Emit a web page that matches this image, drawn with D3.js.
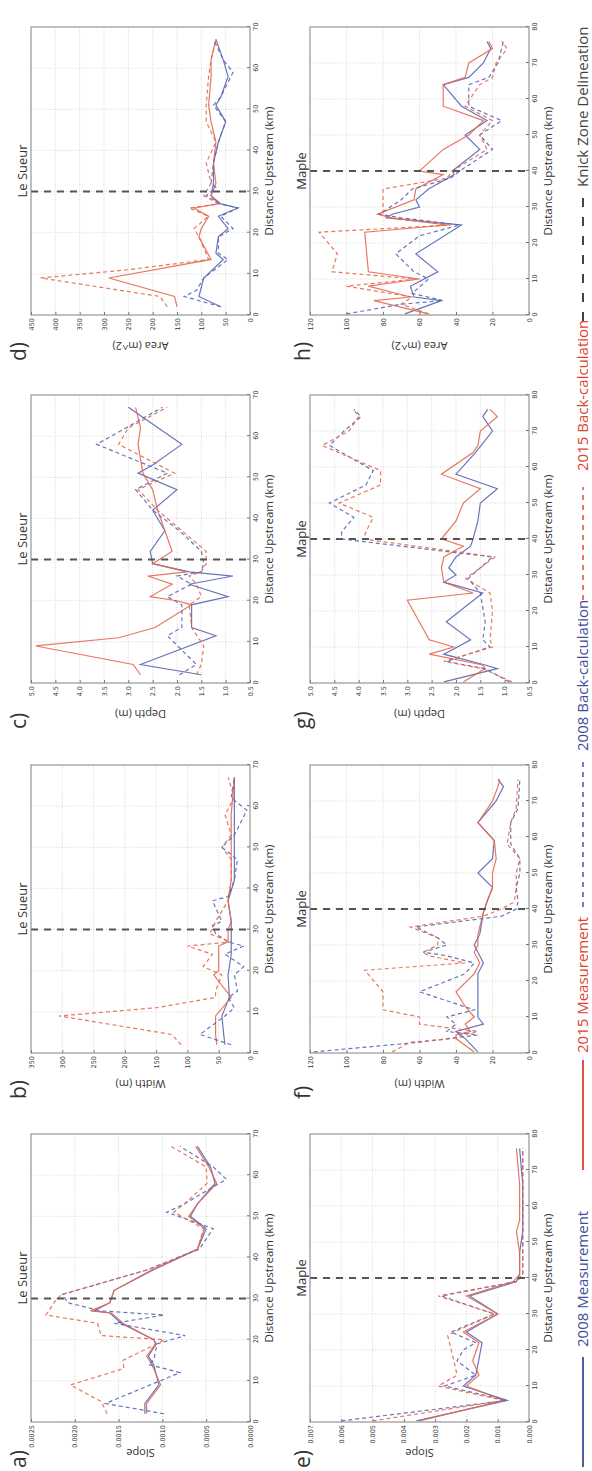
<!DOCTYPE html>
<html>
<head>
<meta charset="utf-8">
<script src="https://cdn.jsdelivr.net/npm/d3@7"></script>
<style>
  body { margin: 0; background: #fff; }
  text { font-family: "Open Sans", sans-serif; }
  .tick text { font-family: "DejaVu Sans", sans-serif; font-size: 6.5px; fill: #333; }
</style>
</head>
<body>
<svg id="fig" width="592" height="1471"></svg>
<script>
// ---- data: [distance upstream (km), value] ----
// Le Sueur slope
const lsSlopeM08 = [[2,0.00120],[4.5,0.00120],[9,0.00104],[14,0.00110],[16,0.00116],[19,0.00107],[20,0.00110],[24,0.00147],[26.5,0.00160],[27,0.00178],[29,0.00160],[32,0.00155],[37,0.00110],[42,0.00060],[47,0.00050],[50,0.00068],[53,0.00060],[58,0.00040],[62,0.00045],[67,0.00060]];
const lsSlopeM15 = [[2,0.00118],[4.5,0.00118],[9,0.00102],[14,0.00112],[16,0.00118],[19,0.00108],[20,0.00110],[24,0.00145],[26.5,0.00158],[27,0.00182],[29,0.00160],[32,0.00155],[37,0.00112],[42,0.00060],[47,0.00052],[50,0.00070],[53,0.00060],[58,0.00038],[62,0.00047],[67,0.00062]];
const lsSlopeB08 = [[2,0.00098],[4.5,0.00165],[12,0.00080],[14,0.00116],[15,0.00110],[19,0.00106],[21,0.00074],[24,0.00155],[26,0.00098],[27,0.00170],[29,0.00208],[31,0.00214],[37,0.00117],[42,0.00058],[47,0.00042],[51,0.00095],[53,0.00075],[59,0.00027],[62,0.00042],[67,0.00080]];
const lsSlopeB15 = [[2,0.00163],[5,0.00170],[9,0.00205],[13,0.00144],[15,0.00145],[19,0.00106],[20,0.00098],[21,0.00170],[24,0.00174],[26,0.00233],[29.5,0.00222],[31,0.00215],[37,0.00117],[42,0.00060],[47,0.00053],[51,0.00087],[53,0.00075],[58,0.00049],[62,0.00050],[67,0.00090]];
// Le Sueur width
const lsWidthM08 = [[2,40],[4.5,42],[9,45],[13.5,33],[19,35],[24,30],[27,30],[32,30],[37,35],[42,25],[50,25],[58,25],[67,25]];
const lsWidthM15 = [[2,53],[4.5,55],[9,55],[13.5,30],[19,58],[20,50],[24,50],[26,50],[27,35],[30,35],[32,30],[37,35],[42,30],[50,30],[58,30],[67,25]];
const lsWidthB08 = [[2,30],[4.5,80],[9,40],[11,25],[13.5,35],[15,20],[19,25],[21,10],[24,40],[26,10],[27,35],[29,55],[31,60],[32,45],[37,60],[38,35],[42,25],[47,20],[50,45],[53,25],[59,5],[62,30],[67,25]];
const lsWidthB15 = [[2,110],[4.5,125],[9,305],[11,150],[13.5,55],[15,55],[19,45],[21,75],[24,60],[26,100],[27,30],[29,65],[30,60],[32,55],[37,35],[42,30],[47,30],[50,45],[53,30],[58,40],[62,25],[67,35]];
// Le Sueur depth
const lsDepthM08 = [[2,1.5],[4.5,2.75],[11.5,1.2],[13.5,1.7],[19,1.7],[21,0.95],[24,1.75],[26,0.85],[27,1.75],[29,2.5],[32,2.55],[37,2.25],[42,2.5],[47,2.0],[51,2.8],[53,2.5],[58,1.9],[67,3.0]];
const lsDepthM15 = [[2,2.75],[4.5,2.9],[9,4.9],[11,3.2],[13.5,2.45],[19,1.7],[20,2.0],[21,2.55],[24,2.1],[26,2.6],[27,1.8],[29,2.5],[32,2.1],[42,2.4],[47,2.5],[51,2.7],[58,2.8],[62,2.75],[67,2.85]];
const lsDepthB08 = [[2,1.95],[4.5,1.6],[11.5,2.2],[13.5,1.9],[19,1.9],[21,2.2],[24,1.7],[26,2.0],[27,1.5],[29,1.45],[32,1.5],[37,1.95],[42,2.5],[47,2.85],[51,2.2],[58,3.65],[67,2.3]];
const lsDepthB15 = [[2,1.6],[4.5,1.5],[9,1.45],[13.5,1.7],[19,1.75],[21,1.5],[24,1.6],[26,1.75],[27,1.5],[29,1.4],[32,1.4],[37,1.9],[42,2.4],[47,2.8],[51,2.05],[58,3.2],[62,3.0],[67,2.2]];
// Le Sueur area
const lsAreaM08 = [[2,60],[4.5,105],[9,95],[13.5,55],[15,70],[19,65],[21,45],[24,65],[26,25],[27,60],[29,80],[32,75],[37,75],[42,65],[47,50],[51,70],[53,60],[58,45],[62,55],[67,70]];
const lsAreaM15 = [[2,150],[4.5,155],[9,290],[13.5,80],[19,105],[21,100],[24,85],[26,115],[27,65],[29,80],[32,70],[37,75],[42,70],[47,80],[51,85],[58,80],[62,80],[67,70]];
const lsAreaB08 = [[2,60],[4.5,135],[6,110],[9,95],[13.5,45],[15,65],[19,65],[21,35],[24,60],[26,25],[27,60],[29,90],[31,70],[32,80],[37,75],[42,65],[47,50],[51,75],[53,60],[59,35],[62,55],[67,75]];
const lsAreaB15 = [[2,170],[4.5,185],[9,430],[11,250],[13.5,85],[19,105],[21,115],[24,85],[26,125],[27,65],[29,95],[32,80],[37,90],[42,70],[47,90],[51,90],[58,85],[62,80],[67,70]];
// Maple slope
const mpSlopeM08 = [[0.3,0.0036],[6,0.0007],[10,0.0021],[13,0.0017],[22,0.0015],[25,0.0020],[30,0.0010],[35,0.0019],[39,0.0004],[41,0.0003],[47,0.0003],[53,0.0002],[66,0.0002],[76,0.0003]];
const mpSlopeM15 = [[0.3,0.0035],[6,0.0008],[10,0.0020],[13,0.0016],[17,0.0018],[22,0.0016],[25,0.0021],[30,0.0010],[35,0.0020],[39,0.0005],[41,0.0003],[47,0.0003],[53,0.0004],[56,0.0003],[66,0.0003],[76,0.0004]];
const mpSlopeB08 = [[0.3,0.0060],[6,0.0007],[10,0.0027],[13,0.0017],[17,0.0023],[20,0.0021],[22,0.0017],[25,0.0025],[30,0.0011],[35,0.0028],[39,0.0004],[41,0.0002],[47,0.0002],[53,0.0002],[66,0.0002],[76,0.0002]];
const mpSlopeB15 = [[0.3,0.0050],[6,0.0008],[10,0.0029],[13,0.0023],[17,0.0024],[24,0.0026],[25,0.0024],[30,0.0011],[35,0.0029],[39,0.0004],[41,0.0002],[47,0.0002],[53,0.0002],[66,0.0002],[76,0.0002]];
// Maple width
const mpWidthM08 = [[0.3,28],[4,35],[6,40],[8,25],[10,28],[13,28],[17,28],[22,28],[25,25],[28,28],[30,30],[33,27],[39,25],[42,23],[46,20],[50,28],[54,20],[59,19],[64,28],[70,18],[74,14],[76,17]];
const mpWidthM15 = [[0.3,30],[4,40],[5,40],[6,32],[8,35],[10,30],[13,35],[17,40],[22,30],[25,27],[28,30],[30,28],[33,28],[39,25],[42,23],[46,20],[50,20],[54,18],[59,19],[64,28],[70,20],[74,17],[76,16]];
const mpWidthB08 = [[0.3,118],[3,60],[5,28],[6,45],[8,40],[10,45],[12,30],[17,60],[22,35],[25,30],[27,45],[28,58],[30,45],[32,50],[35,62],[38,15],[40,7],[42,6],[46,7],[50,5],[54,5],[58,10],[64,10],[68,6],[76,5]];
const mpWidthB15 = [[0.3,75],[3,65],[4,42],[5,37],[6,28],[8,60],[10,60],[12,80],[17,80],[23,90],[25,35],[27,55],[28,58],[30,50],[32,50],[35,65],[38,25],[40,15],[42,8],[46,7],[50,7],[54,5],[58,12],[64,10],[68,7],[76,6]];
// Maple depth
const mpDepthM08 = [[0.3,2.25],[4,1.15],[5,1.4],[8,2.25],[12,1.7],[17,2.2],[25,1.45],[28,2.25],[30,2.0],[32,2.15],[35,2.0],[38,1.7],[40,1.65],[45,1.55],[50,1.5],[54,1.15],[58,2.0],[64,1.6],[70,1.25],[74,1.45],[76,1.35]];
const mpDepthM15 = [[0.3,1.85],[4,1.4],[5,1.45],[8,2.55],[10,2.05],[12,2.55],[23,3.0],[25,1.65],[28,2.25],[32,2.3],[35,2.25],[38,1.85],[40,2.3],[45,2.0],[50,1.85],[54,1.5],[58,2.3],[64,1.65],[66,1.55],[70,1.5],[74,1.15],[76,1.3]];
const mpDepthB08 = [[0.3,0.9],[4,1.4],[6,2.2],[10,1.3],[12,1.45],[17,1.4],[25,1.5],[29,1.75],[35,1.25],[40,4.35],[42,4.35],[46,4.1],[50,4.6],[55,3.85],[59,3.7],[66,4.6],[70,4.3],[74,3.95],[76,4.1]];
const mpDepthB15 = [[0.3,0.85],[4,1.45],[6,2.25],[10,1.25],[12,1.3],[20,1.25],[25,1.3],[29,1.8],[35,1.2],[40,3.9],[42,3.85],[46,3.7],[50,4.4],[55,3.55],[59,3.55],[66,4.75],[70,4.2],[74,4.0],[76,4.1]];
// Maple area
const mpAreaM08 = [[0.3,68],[4,48],[5,63],[8,65],[12,50],[17,62],[25,37],[27,78],[28,75],[30,60],[32,62],[35,55],[39,41],[40,42],[46,27],[50,35],[54,23],[58,37],[64,47],[66,33],[70,25],[74,21],[76,23]];
const mpAreaM15 = [[0.3,55],[4,85],[5,65],[8,88],[10,60],[12,88],[23,90],[25,45],[27,75],[28,83],[32,63],[35,62],[39,47],[40,60],[46,47],[50,33],[54,25],[58,47],[64,47],[66,35],[70,33],[74,20],[76,22]];
const mpAreaB08 = [[0.3,100],[3,70],[4,47],[6,64],[10,55],[12,63],[17,73],[22,60],[25,38],[27,70],[28,82],[32,70],[35,64],[38,43],[40,38],[46,20],[50,27],[54,15],[58,33],[64,33],[66,22],[70,17],[74,15],[76,14]];
const mpAreaB15 = [[0.3,55],[3,70],[5,64],[8,100],[10,62],[12,108],[17,105],[23,115],[25,43],[27,78],[28,80],[32,80],[35,80],[38,45],[40,42],[46,23],[50,27],[54,20],[58,35],[64,27],[66,20],[70,18],[74,12],[76,15]];

// axis ticks
const slopeLsTicks = [0, 0.0005, 0.001, 0.0015, 0.002, 0.0025];
const widthLsTicks = [0, 50, 100, 150, 200, 250, 300, 350];
const depthTicks = [0.5, 1, 1.5, 2, 2.5, 3, 3.5, 4, 4.5, 5];
const areaLsTicks = [0, 50, 100, 150, 200, 250, 300, 350, 400, 450];
const slopeMpTicks = [0, 0.001, 0.002, 0.003, 0.004, 0.005, 0.006, 0.007];
const mapleTicks = [0, 20, 40, 60, 80, 100, 120];
const distLsTicks = [0, 10, 20, 30, 40, 50, 60, 70];
const distMpTicks = [0, 10, 20, 30, 40, 50, 60, 70, 80];

const legendLabels = ["2008 Measurement", "2015 Measurement", "2008 Back-calculation", "2015 Back-calculation", "Knick Zone Delineation"];

const BLUE = "#5766b4", RED = "#e6684f", KNICK = "#555";

const panels = [
  { tag: "a)", river: "Le Sueur", ylab: "Slope",      col: 0, row: 0, xt: distLsTicks, yt: slopeLsTicks, fmt: d3.format(".4f"), knick: 30, s: [lsSlopeM08, lsSlopeM15, lsSlopeB08, lsSlopeB15] },
  { tag: "b)", river: "Le Sueur", ylab: "Width (m)",  col: 1, row: 0, xt: distLsTicks, yt: widthLsTicks, fmt: d3.format("d"),   knick: 30, s: [lsWidthM08, lsWidthM15, lsWidthB08, lsWidthB15] },
  { tag: "c)", river: "Le Sueur", ylab: "Depth (m)",  col: 2, row: 0, xt: distLsTicks, yt: depthTicks,   fmt: d3.format(".1f"), knick: 30, s: [lsDepthM08, lsDepthM15, lsDepthB08, lsDepthB15] },
  { tag: "d)", river: "Le Sueur", ylab: "Area (m^2)", col: 3, row: 0, xt: distLsTicks, yt: areaLsTicks,  fmt: d3.format("d"),   knick: 30, s: [lsAreaM08, lsAreaM15, lsAreaB08, lsAreaB15] },
  { tag: "e)", river: "Maple",    ylab: "Slope",      col: 0, row: 1, xt: distMpTicks, yt: slopeMpTicks, fmt: d3.format(".3f"), knick: 40, s: [mpSlopeM08, mpSlopeM15, mpSlopeB08, mpSlopeB15] },
  { tag: "f)", river: "Maple",    ylab: "Width (m)",  col: 1, row: 1, xt: distMpTicks, yt: mapleTicks,   fmt: d3.format("d"),   knick: 40, s: [mpWidthM08, mpWidthM15, mpWidthB08, mpWidthB15] },
  { tag: "g)", river: "Maple",    ylab: "Depth (m)",  col: 2, row: 1, xt: distMpTicks, yt: depthTicks,   fmt: d3.format(".1f"), knick: 40, s: [mpDepthM08, mpDepthM15, mpDepthB08, mpDepthB15] },
  { tag: "h)", river: "Maple",    ylab: "Area (m^2)", col: 3, row: 1, xt: distMpTicks, yt: mapleTicks,   fmt: d3.format("d"),   knick: 40, s: [mpAreaM08, mpAreaM15, mpAreaB08, mpAreaB15] }
];

// style of the four series, same order as panel.s
const seriesStyle = [
  { color: BLUE, dash: null },
  { color: RED,  dash: null },
  { color: BLUE, dash: "4,3" },
  { color: RED,  dash: "4,3" }
];

// the figure is laid out landscape (1471 x 592) and turned a quarter left
const W = 1471;
const colX = [49, 418, 788, 1156];
const rowY = [31, 310];
const pw = 288, ph = 219;

const svg = d3.select("#fig");
const root = svg.append("g").attr("transform", `translate(0,${W}) rotate(-90)`);

panels.forEach((p, i) => {
  const x0 = colX[p.col], y0 = rowY[p.row];
  const g = root.append("g").attr("transform", `translate(${x0},${y0})`);

  const x = d3.scaleLinear().domain([0, p.xt[p.xt.length - 1]]).range([0, pw]);
  const y = d3.scaleLinear().domain(d3.extent(p.yt)).range([ph, 0]);

  // grid
  g.append("g").selectAll("line").data(p.xt).join("line")
    .attr("x1", d => x(d)).attr("x2", d => x(d)).attr("y1", 0).attr("y2", ph)
    .attr("stroke", "#c8c8c8").attr("stroke-width", 0.7).attr("stroke-dasharray", "1,1.5");
  g.append("g").selectAll("line").data(p.yt).join("line")
    .attr("x1", 0).attr("x2", pw).attr("y1", d => y(d)).attr("y2", d => y(d))
    .attr("stroke", "#c8c8c8").attr("stroke-width", 0.7).attr("stroke-dasharray", "1,1.5");

  // axes (ticks point inward like matplotlib)
  const ax = g.append("g").attr("transform", `translate(0,${ph})`)
    .call(d3.axisBottom(x).tickValues(p.xt).tickSize(-3).tickPadding(3).tickFormat(d3.format("d")));
  const ay = g.append("g")
    .call(d3.axisLeft(y).tickValues(p.yt).tickSize(-3).tickPadding(3).tickFormat(p.fmt));
  [ax, ay].forEach(a => {
    a.select(".domain").remove();
    a.selectAll(".tick line").attr("stroke", "#777");
  });

  // clip
  g.append("clipPath").attr("id", "clip" + i)
    .append("rect").attr("width", pw).attr("height", ph);
  const plot = g.append("g").attr("clip-path", `url(#clip${i})`);

  const line = d3.line().x(d => x(d[0])).y(d => y(d[1]));
  p.s.forEach((data, k) => {
    plot.append("path").datum(data)
      .attr("d", line)
      .attr("fill", "none")
      .attr("stroke", seriesStyle[k].color)
      .attr("stroke-width", 1.2)
      .attr("stroke-opacity", 0.9)
      .attr("stroke-dasharray", seriesStyle[k].dash);
  });

  // knick zone
  plot.append("line")
    .attr("x1", x(p.knick)).attr("x2", x(p.knick)).attr("y1", 0).attr("y2", ph)
    .attr("stroke", KNICK).attr("stroke-width", 2).attr("stroke-dasharray", "7,6");

  // frame
  g.append("rect").attr("width", pw).attr("height", ph)
    .attr("fill", "none").attr("stroke", "#888").attr("stroke-width", 1);

  // labels
  g.append("text").attr("x", pw / 2).attr("y", -4).attr("text-anchor", "middle")
    .attr("font-size", 13).attr("fill", "#333").text(p.river);
  g.append("text").attr("x", pw / 2).attr("y", ph + 23).attr("text-anchor", "middle")
    .attr("font-size", 11.5).attr("fill", "#333").text("Distance Upstream (km)");
  g.append("text").attr("transform", `translate(-27,${ph / 2}) rotate(-90)`)
    .attr("text-anchor", "middle").attr("font-size", 11).attr("fill", "#333").text(p.ylab);
  g.append("text").attr("x", -46).attr("y", p.row === 0 ? -5 : 0)
    .attr("font-size", 21).attr("fill", "#333").text(p.tag);
});

// legend along the bottom of the landscape figure
const legendX = [[4, 114, 124], [301, 411, 418], [564, 711, 720], [871, 984, 1000], [1150, 1275, 1284]];
const legendStyle = [
  { color: "#3e4c9c", dash: null, w: 1.8 },
  { color: "#e0402f", dash: null, w: 1.8 },
  { color: "#3e4c9c", dash: "5,5", w: 1.4 },
  { color: "#e0402f", dash: "5,5", w: 1.4 },
  { color: "#444", dash: "9,10", w: 2 }
];
const lg = root.append("g").attr("transform", "translate(0,0)");
legendLabels.forEach((t, i) => {
  const [a, b, tx] = legendX[i];
  lg.append("line").attr("x1", a).attr("x2", b).attr("y1", 583).attr("y2", 583)
    .attr("stroke", legendStyle[i].color).attr("stroke-width", legendStyle[i].w)
    .attr("stroke-dasharray", legendStyle[i].dash);
  lg.append("text").attr("x", tx).attr("y", 588).attr("font-size", 15)
    .attr("fill", legendStyle[i].color).text(t);
});
</script>
</body>
</html>
